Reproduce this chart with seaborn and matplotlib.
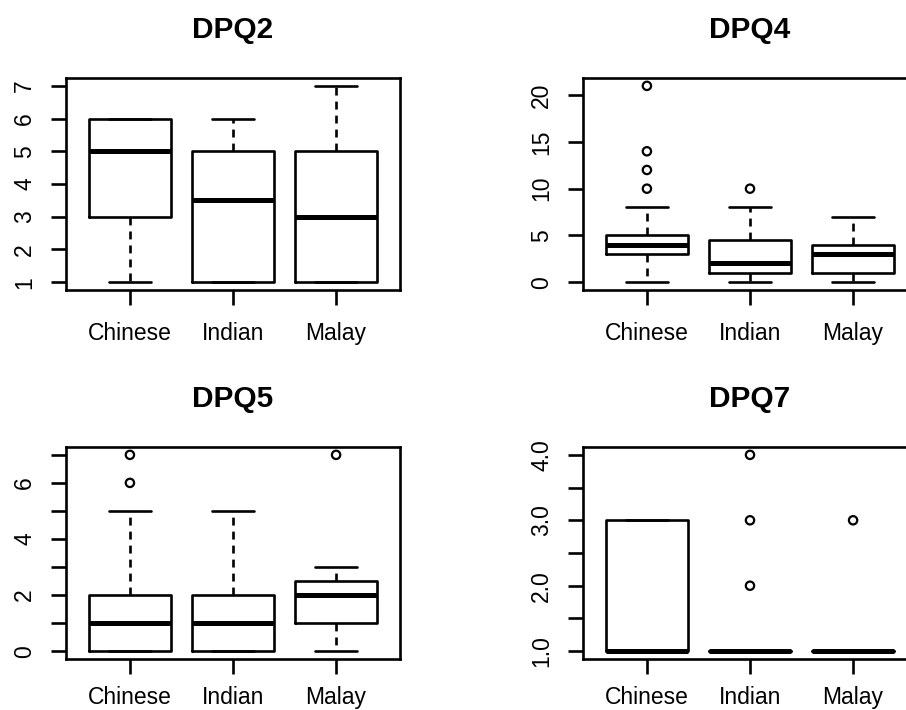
import matplotlib
matplotlib.use("Agg")
import matplotlib.pyplot as plt
import seaborn as sns
import pandas as pd
import numpy as np

categories = ["Chinese", "Indian", "Malay"]
titles = ["DPQ2", "DPQ4", "DPQ5", "DPQ7"]

# five-number summaries
dpq2_low = [1, 1, 1]
dpq2_q1 = [3, 1, 1]
dpq2_med = [5, 3.5, 3]
dpq2_q3 = [6, 5, 5]
dpq2_high = [6, 6, 7]
dpq2_out = [[], [], []]

dpq4_low = [0, 0, 0]
dpq4_q1 = [3, 1, 1]
dpq4_med = [4, 2, 3]
dpq4_q3 = [5, 4.5, 4]
dpq4_high = [8, 8, 7]
dpq4_out = [[10, 12, 14, 21], [10], []]

dpq5_low = [0, 0, 0]
dpq5_q1 = [0, 0, 1]
dpq5_med = [1, 1, 2]
dpq5_q3 = [2, 2, 2.5]
dpq5_high = [5, 5, 3]
dpq5_out = [[6, 7], [], [7]]

dpq7_low = [1, 1, 1]
dpq7_q1 = [1, 1, 1]
dpq7_med = [1, 1, 1]
dpq7_q3 = [3, 1, 1]
dpq7_high = [3, 1, 1]
dpq7_out = [[], [2, 3, 4], [3]]

dpq2_ticks = [1, 2, 3, 4, 5, 6, 7]
dpq2_labels = ["1", "2", "3", "4", "5", "6", "7"]
dpq4_ticks = [0, 5, 10, 15, 20]
dpq4_labels = ["0", "5", "10", "15", "20"]
dpq5_ticks = [0, 1, 2, 3, 4, 5, 6, 7]
dpq5_labels = ["0", "", "2", "", "4", "", "6", ""]
dpq7_ticks = [1.0, 1.5, 2.0, 2.5, 3.0, 3.5, 4.0]
dpq7_labels = ["1.0", "", "2.0", "", "3.0", "", "4.0"]

sns.set_theme(style="white")
plt.rcParams["font.family"] = ["Liberation Sans", "DejaVu Sans"]
plt.rcParams["text.color"] = "black"

panels = [
    (dpq2_low, dpq2_q1, dpq2_med, dpq2_q3, dpq2_high, dpq2_out, dpq2_ticks, dpq2_labels),
    (dpq4_low, dpq4_q1, dpq4_med, dpq4_q3, dpq4_high, dpq4_out, dpq4_ticks, dpq4_labels),
    (dpq5_low, dpq5_q1, dpq5_med, dpq5_q3, dpq5_high, dpq5_out, dpq5_ticks, dpq5_labels),
    (dpq7_low, dpq7_q1, dpq7_med, dpq7_q3, dpq7_high, dpq7_out, dpq7_ticks, dpq7_labels),
]

W, H = 906, 710
fig = plt.figure(figsize=(W / 100, H / 100), dpi=100)
fig.patch.set_facecolor("white")

ax_w = 334 / W
ax_h = 212 / H
lefts = [66 / W, 583 / W]
bottoms = [(H - 290) / H, (H - 659) / H]

lw = 1.9
for i, (title, p) in enumerate(zip(titles, panels)):
    low, q1, med, q3, high, out, ticks, labels = p
    r, c = divmod(i, 2)
    ax = fig.add_axes([lefts[c], bottoms[r], ax_w, ax_h])
    ax.set_facecolor("white")
    stats = [dict(med=med[k], q1=q1[k], q3=q3[k], whislo=low[k], whishi=high[k], fliers=[])
             for k in range(len(categories))]
    ax.bxp(stats, positions=range(len(categories)), widths=0.8, capwidths=0.4,
           showfliers=False, manage_ticks=False,
           boxprops=dict(color="black", lw=lw),
           whiskerprops=dict(color="black", lw=lw, linestyle=(0, (3.0, 2.3))),
           capprops=dict(color="black", lw=lw),
           medianprops=dict(color="black", lw=3.6, solid_capstyle="butt"))
    fl = pd.DataFrame({"group": [categories[k] for k in range(len(categories)) for _ in out[k]],
                       "value": [v for k in range(len(categories)) for v in out[k]]})
    if len(fl):
        sns.stripplot(data=fl, x="group", y="value", order=categories, jitter=False,
                      marker="o", s=6.0, facecolor="none", edgecolor="black",
                      linewidth=1.6, ax=ax, zorder=5)
    lo_v = min(min(low), min([min(o) for o in out if o] or [min(low)]))
    hi_v = max(max(high), max([max(o) for o in out if o] or [max(high)]))
    rng = hi_v - lo_v
    ax.set_ylim(lo_v - 0.04 * rng, hi_v + 0.04 * rng)
    ax.set_xlim(-0.62, 2.62)
    ax.set_xticks(range(len(categories)), categories)
    ax.set_yticks(ticks, labels, rotation=90, va="center")
    ax.set_xlabel("")
    ax.set_ylabel("")
    ax.tick_params(axis="both", direction="out", length=10.5, width=lw,
                   color="black", labelcolor="black", labelsize=16.5,
                   bottom=True, left=True, top=False, right=False)
    ax.tick_params(axis="x", pad=12.5 if r == 0 else 9.0)
    ax.tick_params(axis="y", pad=11)
    for s in ax.spines.values():
        s.set_visible(True)
        s.set_color("black")
        s.set_linewidth(lw)
    ax.set_title(title, fontsize=21.5, fontweight="bold", pad=29, color="black")
    ax.grid(False)

fig.savefig("out.png", dpi=100, facecolor="white")
